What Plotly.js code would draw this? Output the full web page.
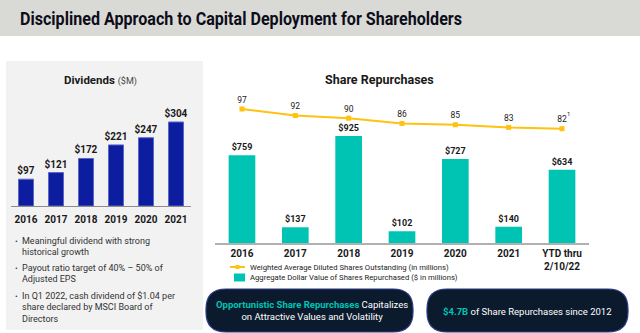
<!DOCTYPE html>
<html>
<head>
<meta charset="utf-8">
<script src="https://cdn.plot.ly/plotly-3.0.1.min.js"></script>
<style>
  html, body { margin: 0; padding: 0; background: #ffffff; }
  #chart { width: 640px; height: 333px; }
</style>
</head>
<body>
<div id="chart"></div>
<script>
// ---- Data ----
const divYears = ['2016', '2017', '2018', '2019', '2020', '2021'];
const divValues = [97, 121, 172, 221, 247, 304];

const repCategories = ['2016', '2017', '2018', '2019', '2020', '2021', 'YTD thru<br>2/10/22'];
const repValues = [759, 137, 925, 102, 727, 140, 634];
const shareValues = [97, 92, 90, 86, 85, 83, 82];

const bulletLines = [
  ['Meaningful dividend with strong', 'historical growth'],
  ['Payout ratio target of 40% \u2013 50% of', 'Adjusted EPS'],
  ['In Q1 2022, cash dividend of $1.04 per', 'share declared by MSCI Board of', 'Directors']
];

// ---- Helpers (pixel -> paper) ----
const W = 640, H = 333;
const X = px => px / W;
const Y = py => 1 - py / H;

function roundRect(x0, y0, x1, y1, r) {
  const rx = r / W, ry = r / H;
  const a = X(x0), b = X(x1), t = Y(y0), u = Y(y1);
  return `M ${a + rx},${t} L ${b - rx},${t} Q ${b},${t} ${b},${t - ry} L ${b},${u + ry} Q ${b},${u} ${b - rx},${u} ` +
         `L ${a + rx},${u} Q ${a},${u} ${a},${u + ry} L ${a},${t - ry} Q ${a},${t} ${a + rx},${t} Z`;
}

const FONT = 'Roboto, "Open Sans", sans-serif';
const TEAL = '#00c4b3';
const GOLD = '#ffc20f';
const NAVY = '#0b1a2c';

// ---- Traces ----
const dividendsTrace = {
  type: 'bar', x: divYears, y: divValues, xaxis: 'x', yaxis: 'y',
  marker: { color: '#0c1d9f', line: { color: '#5a67c4', width: 1 } },
  texttemplate: '<b>$%{y}</b>', textposition: 'outside', cliponaxis: false, constraintext: 'none',
  textfont: { family: FONT, size: 10, color: '#1a1a1a' },
  hoverinfo: 'skip', showlegend: false
};

const repTrace = {
  type: 'bar', x: repCategories, y: repValues, xaxis: 'x2', yaxis: 'y2',
  marker: { color: TEAL },
  texttemplate: '<b>$%{y}</b>', textposition: 'outside', cliponaxis: false, constraintext: 'none',
  textfont: { family: FONT, size: 9, color: '#1a1a1a' },
  hoverinfo: 'skip', showlegend: false
};

const shareTrace = {
  type: 'scatter', mode: 'lines+markers+text', x: repCategories, y: shareValues,
  xaxis: 'x2', yaxis: 'y3',
  line: { color: GOLD, width: 2 },
  marker: { color: GOLD, symbol: 'square', size: 5 },
  text: shareValues.map(String), textposition: 'top center', cliponaxis: false,
  textfont: { family: FONT, size: 8.5, color: '#1a1a1a' },
  hoverinfo: 'skip', showlegend: false
};

// ---- Shapes ----
const shapes = [
  { type: 'rect', xref: 'paper', yref: 'paper', x0: 0, x1: 1, y0: Y(36), y1: 1,
    fillcolor: '#d9dad6', line: { width: 0 }, layer: 'below' },
  { type: 'rect', xref: 'paper', yref: 'paper', x0: X(6), x1: X(203), y0: Y(330), y1: Y(61),
    fillcolor: '#f2f2f2', line: { width: 0 }, layer: 'below' },
  { type: 'path', xref: 'paper', yref: 'paper', path: roundRect(206, 289, 413, 332, 20),
    fillcolor: NAVY, line: { color: '#2c3b86', width: 1.2 } },
  { type: 'path', xref: 'paper', yref: 'paper', path: roundRect(427, 289, 628, 332, 20),
    fillcolor: NAVY, line: { color: '#2c3b86', width: 1.2 } },
  // custom legend swatches
  { type: 'line', xref: 'paper', yref: 'paper', x0: X(230), x1: X(245), y0: Y(267), y1: Y(267),
    line: { color: GOLD, width: 2 } },
  { type: 'rect', xref: 'paper', yref: 'paper', x0: X(235.5), x1: X(239.5), y0: Y(269), y1: Y(265),
    fillcolor: GOLD, line: { width: 0 } },
  { type: 'rect', xref: 'paper', yref: 'paper', x0: X(234), x1: X(245), y0: Y(281.5), y1: Y(273.5),
    fillcolor: TEAL, line: { width: 0 } }
];

// ---- Annotations ----
const annotations = [
  { text: '<b>Disciplined Approach to Capital Deployment for Shareholders</b>', xref: 'paper', yref: 'paper',
    x: X(20), y: Y(18.5), xanchor: 'left', yanchor: 'middle', showarrow: false,
    font: { family: FONT, size: 18, color: '#0d0d1a' } },
  { text: '<b>Dividends</b> <span style="font-size:9px;color:#444">($M)</span>', xref: 'paper', yref: 'paper',
    x: X(100), y: Y(80), xanchor: 'center', yanchor: 'middle', showarrow: false,
    font: { family: FONT, size: 11.5, color: '#1a1a1a' } },
  { text: '<b>Share Repurchases</b>', xref: 'paper', yref: 'paper',
    x: X(379), y: Y(79), xanchor: 'center', yanchor: 'middle', showarrow: false,
    font: { family: FONT, size: 12.5, color: '#1a1a1a' } },
  { text: '1', xref: 'x2', yref: 'y3', x: 6, y: 82, xshift: 6, yshift: 15, showarrow: false,
    font: { family: FONT, size: 6, color: '#1a1a1a' } },
  { text: 'Weighted Average Diluted Shares Outstanding (in millions)', xref: 'paper', yref: 'paper',
    x: X(248), y: Y(267), xanchor: 'left', yanchor: 'middle', showarrow: false,
    font: { family: FONT, size: 7.7, color: '#222' } },
  { text: 'Aggregate Dollar Value of Shares Repurchased ($ in millions)', xref: 'paper', yref: 'paper',
    x: X(248), y: Y(277.5), xanchor: 'left', yanchor: 'middle', showarrow: false,
    font: { family: FONT, size: 7.7, color: '#222' } },
  { text: '<b><span style="color:' + TEAL + '">Opportunistic Share Repurchases</span></b> Capitalizes<br>on Attractive Values and Volatility',
    xref: 'paper', yref: 'paper', x: X(312), y: Y(310.5), xanchor: 'center', yanchor: 'middle', showarrow: false,
    align: 'center', font: { family: FONT, size: 9.5, color: '#ffffff' } },
  { text: '<b><span style="color:' + TEAL + '">$4.7B</span></b> of Share Repurchases since 2012',
    xref: 'paper', yref: 'paper', x: X(527), y: Y(311), xanchor: 'center', yanchor: 'middle', showarrow: false,
    font: { family: FONT, size: 9.5, color: '#ffffff' } }
];

// bullets
const bulletStartY = [241, 268, 296];
bulletLines.forEach((lines, i) => {
  annotations.push({ text: '\u2022', xref: 'paper', yref: 'paper', x: X(16.5), y: Y(bulletStartY[i]),
    xanchor: 'center', yanchor: 'middle', showarrow: false,
    font: { family: FONT, size: 8, color: '#333' } });
  lines.forEach((ln, j) => {
    annotations.push({ text: ln, xref: 'paper', yref: 'paper', x: X(20), y: Y(bulletStartY[i] + j * 11.3),
      xanchor: 'left', yanchor: 'middle', showarrow: false,
      font: { family: FONT, size: 9, color: '#333' } });
  });
});

// ---- Layout ----
const layout = {
  width: W, height: H,
  margin: { l: 0, r: 0, t: 0, b: 0 },
  paper_bgcolor: '#ffffff', plot_bgcolor: 'rgba(0,0,0,0)',
  font: { family: FONT },
  showlegend: false,
  bargap: 0.5,
  xaxis: {
    domain: [X(11), X(191)], anchor: 'y', type: 'category', range: [-0.5, 5.5],
    showgrid: false, zeroline: false, showline: true, linecolor: '#8c8c8c', linewidth: 1,
    ticks: '', tickfont: { family: FONT, size: 10, color: '#1a1a1a', weight: 'bold' },
    ticklabelstandoff: 4, fixedrange: true
  },
  yaxis: {
    domain: [Y(206), Y(206 - 350 * 84 / 304)], anchor: 'x', range: [0, 350],
    visible: false, showgrid: false, zeroline: false, fixedrange: true
  },
  xaxis2: {
    domain: [X(215.3), X(588.7)], anchor: 'y2', type: 'category', range: [-0.5, 6.5],
    showgrid: false, zeroline: false, showline: true, linecolor: '#b0b0b0', linewidth: 1.5,
    ticks: '', tickfont: { family: FONT, size: 10, color: '#1a1a1a', weight: 'bold' },
    fixedrange: true
  },
  yaxis2: {
    domain: [Y(243), Y(243 - 1000 * 107 / 925)], anchor: 'x2', range: [0, 1000],
    visible: false, showgrid: false, zeroline: false, fixedrange: true
  },
  yaxis3: {
    domain: [Y(109 + 17 * 1.313), Y(109 - 3 * 1.313)], anchor: 'x2', range: [80, 100],
    visible: false, showgrid: false, zeroline: false, fixedrange: true
  },
  shapes: shapes,
  annotations: annotations
};

Plotly.newPlot('chart', [dividendsTrace, repTrace, shareTrace], layout, { displayModeBar: false, staticPlot: true })
  .then(() => {
    // condense the main title to the narrow width of the original slide heading, left edge at 20px
    const t = document.querySelector('.annotation[data-index="0"] text.annotation-text');
    if (t) {
      t.setAttribute('textLength', '442');
      t.setAttribute('lengthAdjust', 'spacingAndGlyphs');
      const host = document.getElementById('chart').getBoundingClientRect();
      const r = t.getBoundingClientRect();
      const dx = 20 - (r.left - host.left);
      const x0 = parseFloat(t.getAttribute('x') || '0');
      t.setAttribute('x', String(x0 + dx));
    }
  });
</script>
</body>
</html>
